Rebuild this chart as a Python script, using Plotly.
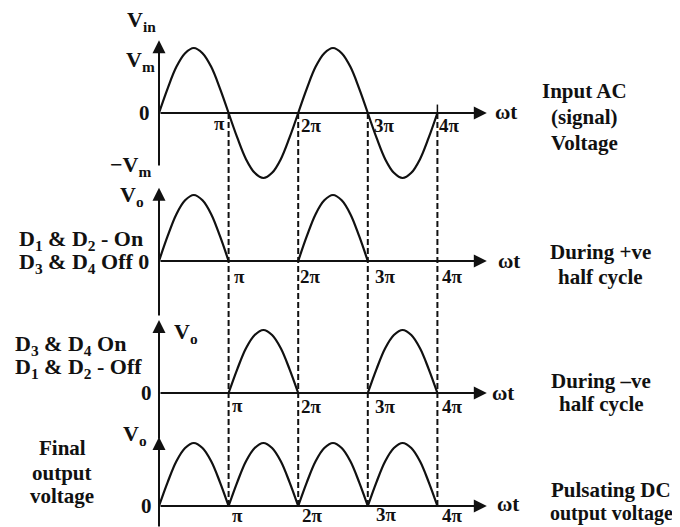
import plotly.graph_objects as go

# ---------------- data (ωt in units of π, voltage in units of Vm) ----------------
half_cycle_phase = [0, 0.125, 0.25, 0.375, 0.5, 0.625, 0.75, 0.875, 1.0]   # position inside a half cycle (×π)
half_cycle_shape = [0, 0.38, 0.71, 0.92, 1.0, 0.92, 0.71, 0.38, 0]           # |v| / Vm
half_cycle_starts = [0, 1, 2, 3]                                              # start of each half cycle (×π)
input_sign = [1, -1, 1, -1]        # Input AC
pos_half_sign = [1, 0, 1, 0]       # D1 & D2 on (+ve half cycles)
neg_half_sign = [0, 1, 0, 1]       # D3 & D4 on (-ve half cycles, inverted)
full_wave_sign = [1, 1, 1, 1]      # final pulsating DC
tick_values = [1, 2, 3, 4]
tick_labels = ["π", "2π", "3π", "4π"]

# page geometry (the page body adds an 8px offset)
PAGE_W, PAGE_H = 680, 527
OFF = 8
W, H = PAGE_W - OFF, PAGE_H - OFF
X0_PX, PX_PER_PI = 159, 69.6
panels = [  # zero-line pixel row on the page, pixels per Vm
    dict(zero=113, amp=65),
    dict(zero=261, amp=66),
    dict(zero=393, amp=63),
    dict(zero=506, amp=63),
]
FONT = "Liberation Serif"
INK = "#111111"


def build(signs):
    xs, ys = [], []
    for start, s in zip(half_cycle_starts, signs):
        if s == 0:
            continue
        xs += [start + p for p in half_cycle_phase] + [None]
        ys += [s * v for v in half_cycle_shape] + [None]
    return xs, ys


def px(x, y):
    return (x - OFF) / W, 1 - (y - OFF) / H


fig = go.Figure()
series = [input_sign, pos_half_sign, neg_half_sign, full_wave_sign]
yrefs = ["y", "y2", "y3", "y4"]
for i, (signs, yr) in enumerate(zip(series, yrefs)):
    xs, ys = build(signs)
    fig.add_trace(go.Scatter(x=xs, y=ys, mode="lines", yaxis=yr,
                             line=dict(color=INK, width=2.2, shape="spline"),
                             hoverinfo="skip", showlegend=False))

layout_axes = {}
for i, p in enumerate(panels):
    rng = [(p["zero"] - PAGE_H) / p["amp"], (p["zero"] - OFF) / p["amp"]]
    key = "yaxis" if i == 0 else f"yaxis{i+1}"
    ax = dict(range=rng, visible=False, domain=[0, 1], fixedrange=True)
    if i > 0:
        ax["overlaying"] = "y"
    layout_axes[key] = ax

fig.update_layout(
    width=W, height=H, autosize=False,
    margin=dict(l=0, r=0, t=0, b=0),
    paper_bgcolor="white", plot_bgcolor="white",
    font=dict(family=FONT, size=20, color=INK),
    xaxis=dict(range=[(OFF - X0_PX) / PX_PER_PI, (PAGE_W - X0_PX) / PX_PER_PI],
               visible=False, fixedrange=True),
    **layout_axes,
)

# ---------------- axes with arrows ----------------
x_end = 4.71
v_extent = [(-0.83, 1.12), (-0.85, 1.11), (-0.75, 1.16), (-0.35, 1.095)]
annotations = []
for yr, (lo, hi) in zip(yrefs, v_extent):
    annotations.append(dict(x=x_end, y=0, ax=0, ay=0, xref="x", yref=yr, axref="x", ayref=yr,
                            text="", showarrow=True, arrowhead=2, arrowsize=1.3, arrowwidth=2,
                            arrowcolor=INK, standoff=0))
    annotations.append(dict(x=0, y=hi, ax=0, ay=lo, xref="x", yref=yr, axref="x", ayref=yr,
                            text="", showarrow=True, arrowhead=2, arrowsize=1.3, arrowwidth=2,
                            arrowcolor=INK, standoff=0))

shapes = []
for t in tick_values:
    shapes.append(dict(type="line", xref="x", yref="paper", x0=t, x1=t,
                       y0=1 - (panels[3]["zero"] - OFF) / H, y1=1 - (panels[0]["zero"] - OFF) / H,
                       line=dict(color=INK, width=2, dash="6px,3px")))
shapes.append(dict(type="line", xref="x", yref="y", x0=4, x1=4, y0=0, y1=0.13,
                   line=dict(color=INK, width=1.5)))


def txt(s, x, y, size=21, align="center", xanchor="center"):
    xx, yy = px(x, y)
    annotations.append(dict(text=s, x=xx, y=yy, xref="paper", yref="paper", showarrow=False,
                            xanchor=xanchor, yanchor="middle", align=align,
                            font=dict(family=FONT, size=size, color=INK, weight="bold")))


tick_pos = [
    [(219, 123), (311, 126), (384, 125), (449, 126)],
    [(239, 276), (310, 277), (385, 276), (452, 277)],
    [(237, 405), (311, 406), (385, 406), (452, 406)],
    [(237, 515), (312, 515), (386, 514), (452, 515)],
]
for row in tick_pos:
    for lab, (x, y) in zip(tick_labels, row):
        txt(lab, x, y, size=19)

for (x, y) in [(506, 112), (509, 261), (503, 393), (508, 504)]:
    txt("ωt", x, y, size=21)

for (x, y) in [(144, 113), (146, 393), (146, 506)]:
    txt("0", x, y, size=21)

txt("V<sub>in</sub>", 141, 21, size=22)
txt("V<sub>m</sub>", 140, 61, size=22)
txt("−V<sub>m</sub>", 131, 166, size=22)
txt("V<sub>o</sub>", 132, 196, size=22)
txt("V<sub>o</sub>", 186, 333, size=22)
txt("V<sub>o</sub>", 135, 435, size=22)

txt("D<sub>1</sub> & D<sub>2</sub> - On", 17, 240, size=22, xanchor="left", align="left")
txt("D<sub>3</sub> & D<sub>4</sub> Off 0", 17, 263, size=22, xanchor="left", align="left")
txt("D<sub>3</sub> & D<sub>4</sub> On", 13, 345, size=22, xanchor="left", align="left")
txt("D<sub>1</sub> & D<sub>2</sub> - Off", 13, 368, size=22, xanchor="left", align="left")
txt("Final", 62, 448)
txt("output", 62, 473)
txt("voltage", 62, 496)

txt("Input AC", 584, 91)
txt("(signal)", 584, 117)
txt("Voltage", 584, 143)
txt("During +ve", 600, 252)
txt("half cycle", 600, 277)
txt("During –ve", 601, 381)
txt("half cycle", 601, 404)
txt("Pulsating DC", 611, 490)
txt("output voltage", 611, 513, size=20)

fig.update_layout(annotations=annotations, shapes=shapes)
fig.write_html("out.html")
